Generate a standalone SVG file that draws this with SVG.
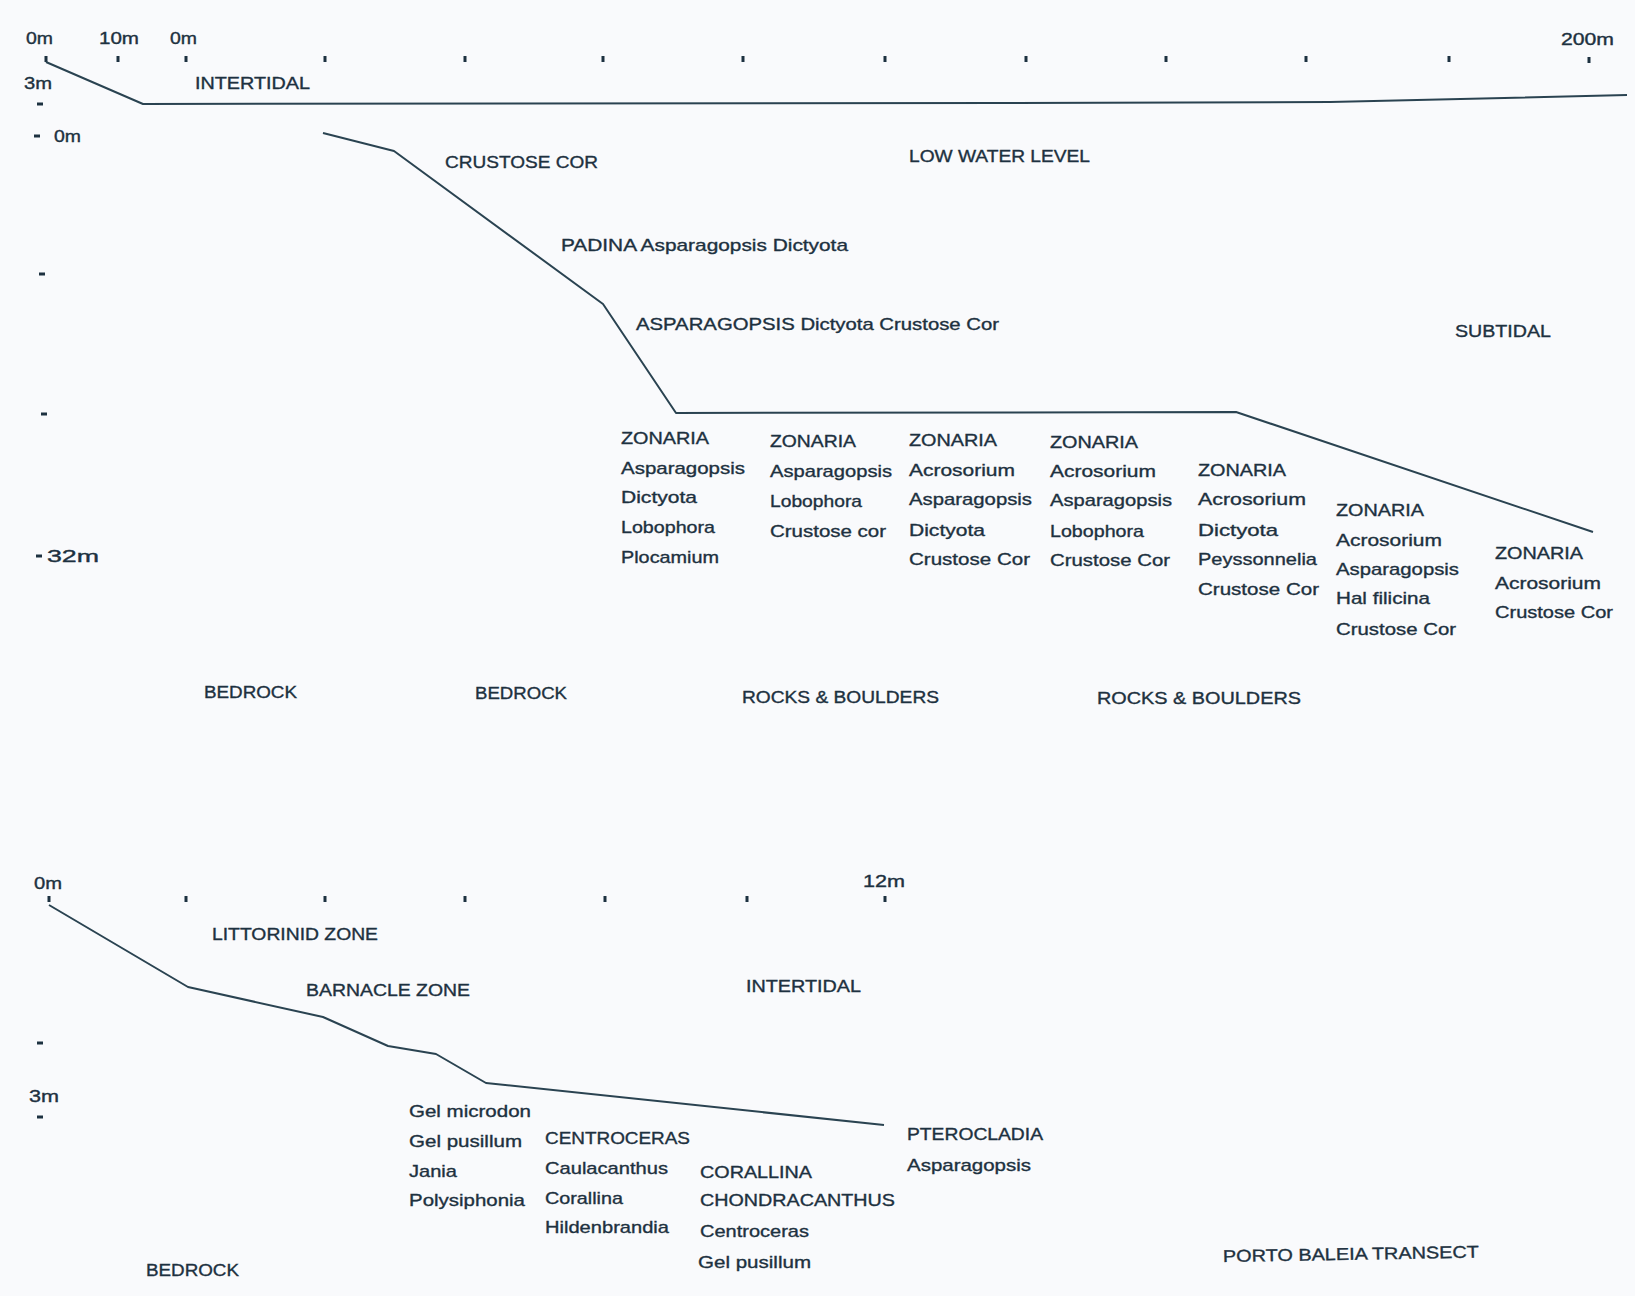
<svg xmlns="http://www.w3.org/2000/svg" width="1635" height="1296" viewBox="0 0 1635 1296">
<style>
text{font-family:"Liberation Sans",Arial,Helvetica,sans-serif;font-size:17px;fill:#1d3140;stroke:#1d3140;stroke-width:0.35}
.ax{font-size:16px}
.prof{fill:none;stroke:#2a4351;stroke-width:2;stroke-linejoin:round}
.dot{fill:#1d3140}
</style>
<defs>
<rect id="tk" x="-1.5" y="-3" width="3" height="6"/>
<rect id="hd" x="-3" y="-1.5" width="6" height="3"/>
</defs>
<rect width="1635" height="1296" fill="#f9fafc"/>

<g id="top-scale">
<text class="ax" x="26" y="44" textLength="27" lengthAdjust="spacingAndGlyphs">0m</text>
<text class="ax" x="99" y="44" textLength="40" lengthAdjust="spacingAndGlyphs">10m</text>
<text class="ax" x="170" y="44" textLength="27" lengthAdjust="spacingAndGlyphs">0m</text>
<text class="ax" x="1561" y="45" textLength="53" lengthAdjust="spacingAndGlyphs">200m</text>
<text class="ax" x="24" y="89" textLength="28" lengthAdjust="spacingAndGlyphs">3m</text>
<text class="ax" x="54" y="142" textLength="27" lengthAdjust="spacingAndGlyphs">0m</text>
<text class="ax" x="47" y="562" textLength="52" lengthAdjust="spacingAndGlyphs">32m</text>
<g class="dot">
<use href="#tk" x="46" y="59"/><use href="#tk" x="118" y="59"/><use href="#tk" x="186" y="59"/>
<use href="#tk" x="325" y="59"/><use href="#tk" x="465" y="59"/><use href="#tk" x="603" y="59"/>
<use href="#tk" x="743" y="59"/><use href="#tk" x="885" y="59"/><use href="#tk" x="1026" y="59"/>
<use href="#tk" x="1166" y="59"/><use href="#tk" x="1306" y="59"/><use href="#tk" x="1449" y="59"/>
<use href="#tk" x="1589" y="60"/>
<use href="#hd" x="40" y="104"/><use href="#hd" x="37" y="136"/><use href="#hd" x="42" y="274"/>
<use href="#hd" x="44" y="414"/><use href="#hd" x="39" y="556"/>
</g>
</g>

<g id="connectors">
<polyline class="prof" points="46,62 143,104 1000,103 1330,102 1627,95"/>
<polyline class="prof" points="323,133 394,151 603,304 676,413 1236,412 1593,532"/>
<polyline class="prof" points="49,905 188,987 323,1017 388,1046 436,1054 486,1083 884,1125"/>
</g>

<g id="top-labels">
<text x="195" y="89" textLength="115" lengthAdjust="spacingAndGlyphs">INTERTIDAL</text>
<text x="445" y="168" textLength="153" lengthAdjust="spacingAndGlyphs">CRUSTOSE COR</text>
<text x="909" y="162" textLength="181" lengthAdjust="spacingAndGlyphs">LOW WATER LEVEL</text>
<text x="561" y="251" textLength="287" lengthAdjust="spacingAndGlyphs">PADINA Asparagopsis Dictyota</text>
<text x="636" y="330" textLength="363" lengthAdjust="spacingAndGlyphs">ASPARAGOPSIS Dictyota Crustose Cor</text>
<text x="1455" y="337" textLength="96" lengthAdjust="spacingAndGlyphs">SUBTIDAL</text>
</g>

<g id="col1">
<text x="621" y="444" textLength="88" lengthAdjust="spacingAndGlyphs">ZONARIA</text>
<text x="621" y="474" textLength="124" lengthAdjust="spacingAndGlyphs">Asparagopsis</text>
<text x="621" y="503" textLength="76" lengthAdjust="spacingAndGlyphs">Dictyota</text>
<text x="621" y="533" textLength="94" lengthAdjust="spacingAndGlyphs">Lobophora</text>
<text x="621" y="563" textLength="98" lengthAdjust="spacingAndGlyphs">Plocamium</text>
</g>
<g id="col2">
<text x="770" y="447" textLength="86" lengthAdjust="spacingAndGlyphs">ZONARIA</text>
<text x="770" y="477" textLength="122" lengthAdjust="spacingAndGlyphs">Asparagopsis</text>
<text x="770" y="507" textLength="92" lengthAdjust="spacingAndGlyphs">Lobophora</text>
<text x="770" y="537" textLength="116" lengthAdjust="spacingAndGlyphs">Crustose cor</text>
</g>
<g id="col3">
<text x="909" y="446" textLength="88" lengthAdjust="spacingAndGlyphs">ZONARIA</text>
<text x="909" y="476" textLength="106" lengthAdjust="spacingAndGlyphs">Acrosorium</text>
<text x="909" y="505" textLength="123" lengthAdjust="spacingAndGlyphs">Asparagopsis</text>
<text x="909" y="536" textLength="76" lengthAdjust="spacingAndGlyphs">Dictyota</text>
<text x="909" y="565" textLength="121" lengthAdjust="spacingAndGlyphs">Crustose Cor</text>
</g>
<g id="col4">
<text x="1050" y="448" textLength="88" lengthAdjust="spacingAndGlyphs">ZONARIA</text>
<text x="1050" y="477" textLength="106" lengthAdjust="spacingAndGlyphs">Acrosorium</text>
<text x="1050" y="506" textLength="122" lengthAdjust="spacingAndGlyphs">Asparagopsis</text>
<text x="1050" y="537" textLength="94" lengthAdjust="spacingAndGlyphs">Lobophora</text>
<text x="1050" y="566" textLength="120" lengthAdjust="spacingAndGlyphs">Crustose Cor</text>
</g>
<g id="col5">
<text x="1198" y="476" textLength="88" lengthAdjust="spacingAndGlyphs">ZONARIA</text>
<text x="1198" y="505" textLength="108" lengthAdjust="spacingAndGlyphs">Acrosorium</text>
<text x="1198" y="536" textLength="80" lengthAdjust="spacingAndGlyphs">Dictyota</text>
<text x="1198" y="565" textLength="119" lengthAdjust="spacingAndGlyphs">Peyssonnelia</text>
<text x="1198" y="595" textLength="121" lengthAdjust="spacingAndGlyphs">Crustose Cor</text>
</g>
<g id="col6">
<text x="1336" y="516" textLength="88" lengthAdjust="spacingAndGlyphs">ZONARIA</text>
<text x="1336" y="546" textLength="106" lengthAdjust="spacingAndGlyphs">Acrosorium</text>
<text x="1336" y="575" textLength="123" lengthAdjust="spacingAndGlyphs">Asparagopsis</text>
<text x="1336" y="604" textLength="94" lengthAdjust="spacingAndGlyphs">Hal filicina</text>
<text x="1336" y="635" textLength="120" lengthAdjust="spacingAndGlyphs">Crustose Cor</text>
</g>
<g id="col7">
<text x="1495" y="559" textLength="88" lengthAdjust="spacingAndGlyphs">ZONARIA</text>
<text x="1495" y="589" textLength="106" lengthAdjust="spacingAndGlyphs">Acrosorium</text>
<text x="1495" y="618" textLength="118" lengthAdjust="spacingAndGlyphs">Crustose Cor</text>
</g>

<g id="substrate-top">
<text x="204" y="698" textLength="93" lengthAdjust="spacingAndGlyphs">BEDROCK</text>
<text x="475" y="699" textLength="92" lengthAdjust="spacingAndGlyphs">BEDROCK</text>
<text x="742" y="703" textLength="197" lengthAdjust="spacingAndGlyphs">ROCKS &amp; BOULDERS</text>
<text x="1097" y="704" textLength="204" lengthAdjust="spacingAndGlyphs">ROCKS &amp; BOULDERS</text>
</g>

<g id="bottom-scale">
<text class="ax" x="34" y="889" textLength="28" lengthAdjust="spacingAndGlyphs">0m</text>
<text class="ax" x="863" y="887" textLength="42" lengthAdjust="spacingAndGlyphs">12m</text>
<text class="ax" x="29" y="1102" textLength="30" lengthAdjust="spacingAndGlyphs">3m</text>
<g class="dot">
<use href="#tk" x="49" y="899"/><use href="#tk" x="186" y="899"/><use href="#tk" x="325" y="899"/>
<use href="#tk" x="465" y="899"/><use href="#tk" x="605" y="899"/><use href="#tk" x="747" y="899"/>
<use href="#tk" x="885" y="899"/>
<use href="#hd" x="40" y="1043"/><use href="#hd" x="40" y="1117"/>
</g>
</g>

<g id="bottom-labels">
<text x="212" y="940" textLength="166" lengthAdjust="spacingAndGlyphs">LITTORINID ZONE</text>
<text x="306" y="996" textLength="164" lengthAdjust="spacingAndGlyphs">BARNACLE ZONE</text>
<text x="746" y="992" textLength="115" lengthAdjust="spacingAndGlyphs">INTERTIDAL</text>
</g>
<g id="colA">
<text x="409" y="1117" textLength="122" lengthAdjust="spacingAndGlyphs">Gel microdon</text>
<text x="409" y="1147" textLength="113" lengthAdjust="spacingAndGlyphs">Gel pusillum</text>
<text x="409" y="1177" textLength="48" lengthAdjust="spacingAndGlyphs">Jania</text>
<text x="409" y="1206" textLength="116" lengthAdjust="spacingAndGlyphs">Polysiphonia</text>
</g>
<g id="colB">
<text x="545" y="1144" textLength="145" lengthAdjust="spacingAndGlyphs">CENTROCERAS</text>
<text x="545" y="1174" textLength="123" lengthAdjust="spacingAndGlyphs">Caulacanthus</text>
<text x="545" y="1204" textLength="78" lengthAdjust="spacingAndGlyphs">Corallina</text>
<text x="545" y="1233" textLength="124" lengthAdjust="spacingAndGlyphs">Hildenbrandia</text>
</g>
<g id="colC">
<text x="700" y="1178" textLength="112" lengthAdjust="spacingAndGlyphs">CORALLINA</text>
<text x="700" y="1206" textLength="195" lengthAdjust="spacingAndGlyphs">CHONDRACANTHUS</text>
<text x="700" y="1237" textLength="109" lengthAdjust="spacingAndGlyphs">Centroceras</text>
<text x="698" y="1268" textLength="113" lengthAdjust="spacingAndGlyphs">Gel pusillum</text>
</g>
<g id="colD">
<text x="907" y="1140" textLength="136" lengthAdjust="spacingAndGlyphs">PTEROCLADIA</text>
<text x="907" y="1171" textLength="124" lengthAdjust="spacingAndGlyphs">Asparagopsis</text>
</g>
<g id="bottom-misc">
<text x="146" y="1276" textLength="93" lengthAdjust="spacingAndGlyphs">BEDROCK</text>
<text x="1223" y="1262" textLength="256" lengthAdjust="spacingAndGlyphs" transform="rotate(-1 1223 1262)">PORTO BALEIA TRANSECT</text>
</g>
</svg>
